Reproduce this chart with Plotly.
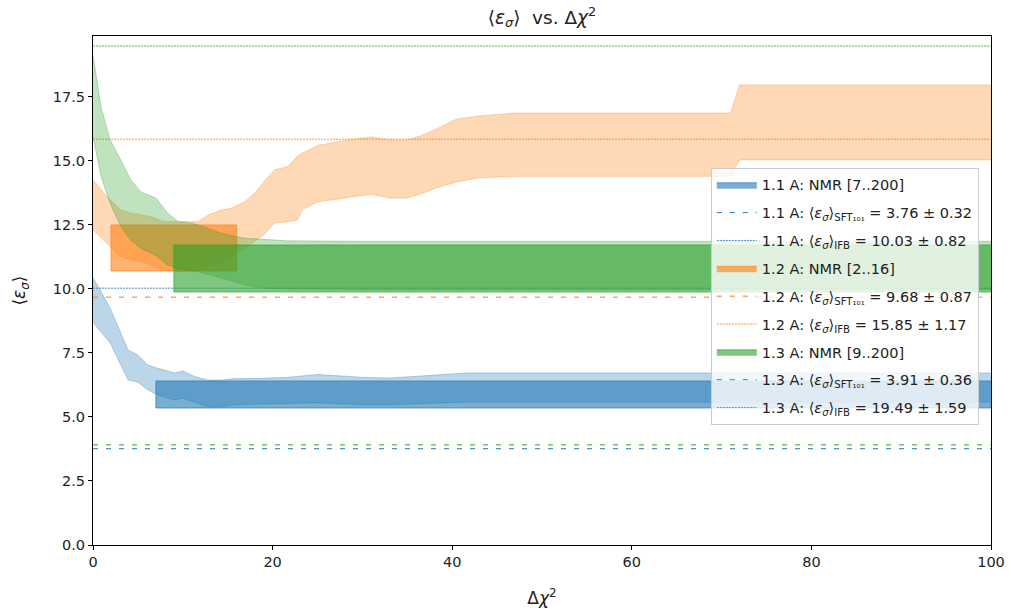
import plotly.graph_objects as go

# ---------------- data ----------------
series_names = ["1.1 A", "1.2 A", "1.3 A"]
colors = ["#1f77b4", "#ff7f0e", "#2ca02c"]
rgb = [(31, 119, 180), (255, 127, 14), (44, 160, 44)]

# NMR windows [start..end] and rectangle y-extent
nmr_start = [7, 2, 9]
nmr_end = [200, 16, 200]
nmr_low = [5.35, 10.7, 9.88]
nmr_high = [6.41, 12.5, 11.72]

sft_val = [3.76, 9.68, 3.91]
sft_err = [0.32, 0.87, 0.36]
ifb_val = [10.03, 15.85, 19.49]
ifb_err = [0.82, 1.17, 1.59]

# bands (x, lower, upper)
blue_x = [0, 1.9, 3.9, 5.0, 6.1, 7.2, 9.1, 10.0, 11.3, 12.8, 14.3, 15.8, 18, 21.7, 25, 30, 33, 36.7, 41.6, 60, 80, 100]
blue_lo = [8.7, 7.9, 6.45, 6.36, 6.06, 5.86, 5.66, 5.73, 5.58, 5.4, 5.4, 5.47, 5.5, 5.53, 5.55, 5.48, 5.48, 5.52, 5.58, 5.58, 5.58, 5.58]
blue_hi = [10.45, 9.26, 7.62, 7.42, 7.03, 6.9, 6.72, 6.8, 6.58, 6.44, 6.44, 6.5, 6.5, 6.55, 6.66, 6.55, 6.52, 6.6, 6.72, 6.72, 6.72, 6.72]

orange_x = [0, 1.9, 3.1, 4.2, 5.3, 6.4, 7.9, 9.8, 11.7, 12.8, 14.3, 15.4, 16.9, 18, 19.2, 20.2, 21.7, 22.8, 23.3, 25, 28, 31, 33, 35, 36.5, 38.5, 40.5, 43, 47, 60, 71, 72, 80, 100]
orange_lo = [12.3, 11.65, 11.26, 11.15, 11.07, 10.95, 10.74, 10.68, 10.74, 10.85, 11.05, 11.26, 11.6, 11.85, 12.18, 12.57, 12.63, 12.7, 13.1, 13.4, 13.55, 13.7, 13.55, 13.55, 13.71, 13.98, 14.18, 14.34, 14.4, 14.4, 14.4, 15.04, 15.04, 15.04]
orange_hi = [14.26, 13.48, 13.08, 12.96, 12.9, 12.83, 12.63, 12.63, 12.63, 12.89, 13.08, 13.15, 13.41, 13.73, 14.26, 14.65, 14.78, 15.2, 15.3, 15.6, 15.8, 15.94, 15.82, 15.82, 15.98, 16.29, 16.64, 16.76, 16.87, 16.87, 16.87, 17.97, 17.97, 17.97]

green_x = [0, 0.9, 1.9, 3.1, 4.2, 5.3, 7.0, 8.3, 9.5, 10.6, 11.7, 14.3, 16.9, 19.2, 21.7, 30, 50, 70, 100]
green_lo = [15.95, 14.39, 13.35, 12.43, 11.9, 11.6, 11.3, 10.94, 10.78, 10.72, 10.68, 10.42, 10.16, 10.03, 10.0, 9.98, 9.98, 9.98, 9.98]
green_hi = [19.14, 17.1, 15.82, 15.04, 14.26, 13.8, 13.55, 12.97, 12.63, 12.6, 12.5, 12.18, 11.98, 11.92, 11.88, 11.86, 11.86, 11.86, 11.86]

band_x = [blue_x, orange_x, green_x]
band_lo = [blue_lo, orange_lo, green_lo]
band_hi = [blue_hi, orange_hi, green_hi]

x_range = [0, 100]
y_range = [0, 19.88]

# ---------------- figure ----------------
FONT = "DejaVu Sans"
fig = go.Figure()


def rgba(c, a):
    return "rgba(%d,%d,%d,%.2f)" % (c[0], c[1], c[2], a)


eps = "⟨<i>ε</i><sub><i>σ</i></sub>⟩"

for i, name in enumerate(series_names):
    c = rgb[i]
    # band
    fig.add_trace(go.Scatter(x=band_x[i], y=band_lo[i], mode="lines",
                             line=dict(color=rgba(c, 0.3), width=1),
                             showlegend=False, hoverinfo="skip"))
    fig.add_trace(go.Scatter(x=band_x[i], y=band_hi[i], mode="lines",
                             line=dict(color=rgba(c, 0.3), width=1),
                             fill="tonexty", fillcolor=rgba(c, 0.3),
                             showlegend=False, hoverinfo="skip"))
    # NMR rectangle
    x0, x1 = nmr_start[i], nmr_end[i]
    y0, y1 = nmr_low[i], nmr_high[i]
    fig.add_trace(go.Scatter(x=[x0, x1, x1, x0, x0], y=[y0, y0, y1, y1, y0],
                             mode="lines", fill="toself",
                             fillcolor=rgba(c, 0.6), line=dict(color=rgba(c, 0.6), width=1),
                             name="%s: NMR [%d..%d]" % (name, x0, x1),
                             legendgroup="g%d_nmr" % i, hoverinfo="skip"))
    # SFT line
    fig.add_trace(go.Scatter(x=x_range, y=[sft_val[i]] * 2, mode="lines",
                             line=dict(color=colors[i], width=1, dash="5px,8px"),
                             name="%s: %s<sub>SFT₁₀₁</sub> = %.2f ± %.2f" % (name, eps, sft_val[i], sft_err[i]),
                             legendgroup="g%d_sft" % i, hoverinfo="skip"))
    # IFB line
    fig.add_trace(go.Scatter(x=x_range, y=[ifb_val[i]] * 2, mode="lines",
                             line=dict(color=colors[i], width=0.8, dash="2px,1px"),
                             name="%s: %s<sub>IFB</sub> = %.2f ± %.2f" % (name, eps, ifb_val[i], ifb_err[i]),
                             legendgroup="g%d_ifb" % i, hoverinfo="skip"))

axis_common = dict(showgrid=False, zeroline=False, showline=True, linecolor="black",
                   linewidth=1, mirror=True, ticks="outside", ticklen=4, tickwidth=1,
                   tickcolor="black", automargin=False,
                   tickfont=dict(family=FONT, size=14.5, color="#222"))

fig.update_layout(
    width=1011, height=611, autosize=False,
    margin=dict(l=93, r=20, t=36, b=66, autoexpand=False),
    paper_bgcolor="white", plot_bgcolor="white",
    font=dict(family=FONT, size=14.5, color="#222"),
    title=dict(text="⟨<i>ε</i><sub><i>σ</i></sub>⟩  vs. Δ<i>χ</i><sup>2</sup>",
               x=0.5, xref="paper", xanchor="center", y=0.972, yref="container",
               yanchor="middle", font=dict(family=FONT, size=18.5, color="#222")),
    xaxis=dict(range=x_range, tickvals=[0, 20, 40, 60, 80, 100],
               title=dict(text="Δ<i>χ</i><sup>2</sup>", font=dict(family=FONT, size=17), standoff=22),
               **axis_common),
    yaxis=dict(range=y_range, tickvals=[0, 2.5, 5, 7.5, 10, 12.5, 15, 17.5], tickformat=".1f",
               title=dict(text="⟨<i>ε</i><sub><i>σ</i></sub>⟩", font=dict(family=FONT, size=17), standoff=22),
               **axis_common),
    legend=dict(x=0.688, y=0.741, xanchor="left", yanchor="top",
                bgcolor="rgba(255,255,255,0.8)", bordercolor="#cccccc", borderwidth=1,
                font=dict(family=FONT, size=14.5, color="#222"),
                traceorder="grouped", tracegroupgap=6, itemwidth=40),
    showlegend=True,
)

fig.write_html("out.html", config={"displayModeBar": False, "responsive": False},
               post_script="document.body.style.margin='0px';")
